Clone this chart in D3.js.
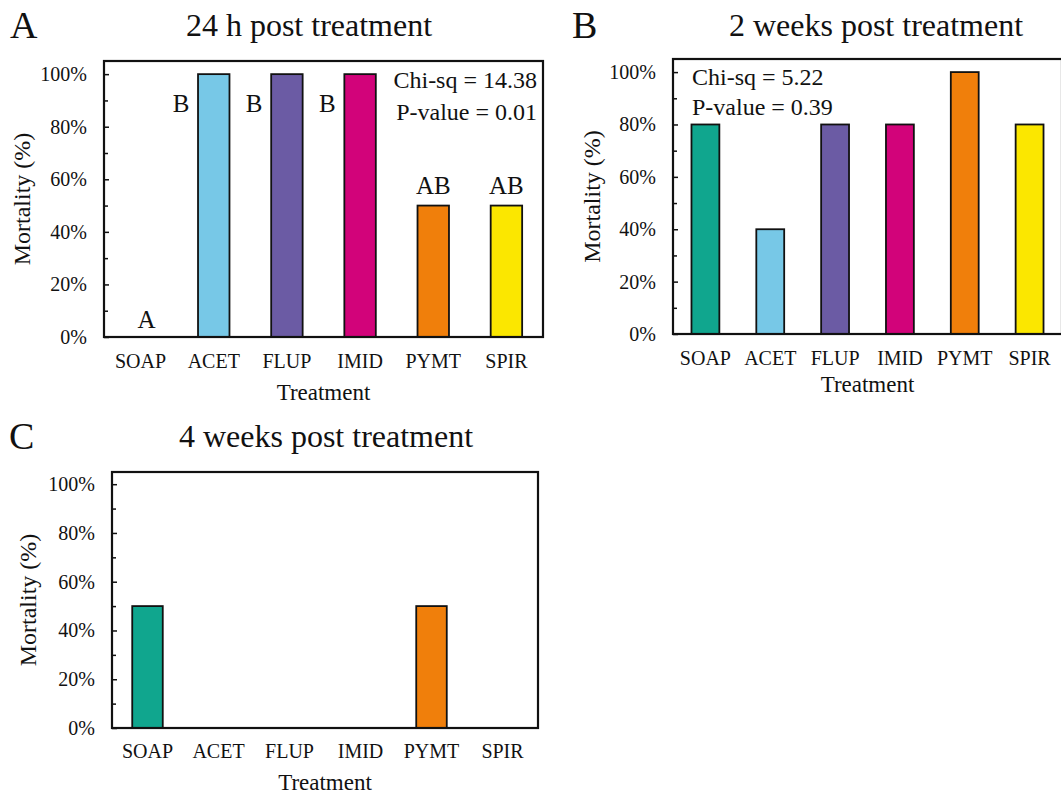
<!DOCTYPE html>
<meta charset="utf-8">
<style>
    body { margin: 0; background: #fff; }
    text { font-family: "Liberation Serif", "Times New Roman", serif; fill: #111; }
    .frame { fill: none; stroke: #111; stroke-width: 2.2; }
    .bar { stroke: #111; stroke-width: 1.8; }
    .axis path { display: none; }
    .axis line { stroke: #111; stroke-width: 1.5; }
    .axis text { font-size: 20px; font-family: "Liberation Serif", serif; }
</style>
<body>
<script src="https://d3js.org/d3.v7.min.js"></script>
<script>
// data
var treatments = ["SOAP", "ACET", "FLUP", "IMID", "PYMT", "SPIR"];
var colors = ["#10a68e", "#77c8e7", "#6b5ba4", "#d2037a", "#f07f0b", "#fbe700"];
var mortality24h = [0, 1, 1, 1, 0.5, 0.5];
var mortality2w = [0.8, 0.4, 0.8, 0.8, 1, 0.8];
var mortality4w = [0.5, 0, 0, 0, 0.5, 0];
var letters24h = ["A", "B", "B", "B", "AB", "AB"];
var yTicks = [0, 0.2, 0.4, 0.6, 0.8, 1];
var yMinorTicks = [0.1, 0.3, 0.5, 0.7, 0.9];

var svg = d3.select("body").append("svg")
    .attr("width", 1061)
    .attr("height", 796);

function panel(opt) {
    var g = svg.append("g");

    var x = d3.scaleBand()
        .domain(treatments)
        .range([opt.x0, opt.x1])
        .paddingInner(0.57)
        .paddingOuter(0.285);

    var y = d3.scaleLinear()
        .domain([0, 1.05])
        .range([opt.y1, opt.y0]);

    // bars
    g.selectAll(".bar")
        .data(opt.values.map(function (v, i) { return {k: treatments[i], v: v, c: colors[i]}; })
            .filter(function (d) { return d.v > 0; }))
        .enter().append("rect")
        .attr("class", "bar")
        .attr("x", function (d) { return x(d.k); })
        .attr("width", x.bandwidth())
        .attr("y", function (d) { return y(d.v); })
        .attr("height", function (d) { return y(0) - y(d.v); })
        .attr("fill", function (d) { return d.c; });

    // y axis, ticks pointing inward
    g.append("g")
        .attr("class", "axis")
        .attr("transform", "translate(" + opt.x0 + ",0)")
        .call(d3.axisLeft(y).tickValues(yTicks).tickFormat(d3.format(".0%"))
            .tickSizeInner(-5).tickSizeOuter(0).tickPadding(17));

    g.append("g")
        .attr("class", "axis")
        .attr("transform", "translate(" + opt.x0 + ",0)")
        .call(d3.axisLeft(y).tickValues(yMinorTicks).tickFormat("")
            .tickSizeInner(-4).tickSizeOuter(0));

    // category labels
    g.selectAll(".cat")
        .data(treatments)
        .enter().append("text")
        .attr("x", function (d) { return x(d) + x.bandwidth() / 2; })
        .attr("y", opt.y1 + opt.catGap)
        .attr("text-anchor", "middle")
        .style("font-size", "20px")
        .text(function (d) { return d; });

    g.append("rect")
        .attr("class", "frame")
        .attr("x", opt.x0).attr("y", opt.y0)
        .attr("width", opt.x1 - opt.x0).attr("height", opt.y1 - opt.y0);

    g.append("text")
        .attr("x", (opt.x0 + opt.x1) / 2)
        .attr("y", opt.y1 + opt.titleGap)
        .attr("text-anchor", "middle")
        .style("font-size", "23px")
        .text("Treatment");

    g.append("text")
        .attr("transform", "translate(" + opt.yTitleX + "," + ((opt.y0 + opt.y1) / 2) + ") rotate(-90)")
        .attr("dy", "0.35em")
        .attr("text-anchor", "middle")
        .style("font-size", "24px")
        .text("Mortality (%)");

    g.append("text")
        .attr("x", opt.titleX).attr("y", opt.titleY)
        .attr("text-anchor", "middle")
        .style("font-size", "32px")
        .text(opt.title);

    g.append("text")
        .attr("x", opt.letterX).attr("y", opt.titleY + 2)
        .style("font-size", "38px")
        .text(opt.letter);

    return {g: g, x: x, y: y};
}

var pA = panel({x0: 104, x1: 543, y0: 61, y1: 337, values: mortality24h,
    catGap: 31, titleGap: 63, yTitleX: 22, title: "24 h post treatment",
    titleX: 309, titleY: 36, letter: "A", letterX: 10});

var pB = panel({x0: 673, x1: 1062, y0: 59, y1: 334, values: mortality2w,
    catGap: 31, titleGap: 58, yTitleX: 592, title: "2 weeks post treatment",
    titleX: 876, titleY: 36, letter: "B", letterX: 572});

var pC = panel({x0: 112, x1: 538, y0: 472, y1: 728, values: mortality4w,
    catGap: 30, titleGap: 62, yTitleX: 28, title: "4 weeks post treatment",
    titleX: 326, titleY: 447, letter: "C", letterX: 9});

// significance letters in panel A
pA.g.selectAll(".sig")
    .data(letters24h.map(function (l, i) { return {l: l, k: treatments[i], v: mortality24h[i]}; }))
    .enter().append("text")
    .attr("x", function (d) {
        if (d.v === 1) return pA.x(d.k) - 17;
        return pA.x(d.k) + pA.x.bandwidth() / 2 + (d.v === 0 ? 6 : 0);
    })
    .attr("y", function (d) {
        if (d.v === 1) return pA.y(0.855);
        return pA.y(d.v) - (d.v === 0 ? 9 : 12);
    })
    .attr("text-anchor", "middle")
    .style("font-size", "25px")
    .text(function (d) { return d.l; });

// test statistics
pA.g.append("text").attr("x", 537).attr("y", 88).attr("text-anchor", "end")
    .style("font-size", "24px").text("Chi-sq = 14.38");
pA.g.append("text").attr("x", 537).attr("y", 120).attr("text-anchor", "end")
    .style("font-size", "24px").text("P-value = 0.01");

pB.g.append("text").attr("x", 692).attr("y", 85)
    .style("font-size", "24px").text("Chi-sq = 5.22");
pB.g.append("text").attr("x", 692).attr("y", 115)
    .style("font-size", "24px").text("P-value = 0.39");
</script>
</body>
